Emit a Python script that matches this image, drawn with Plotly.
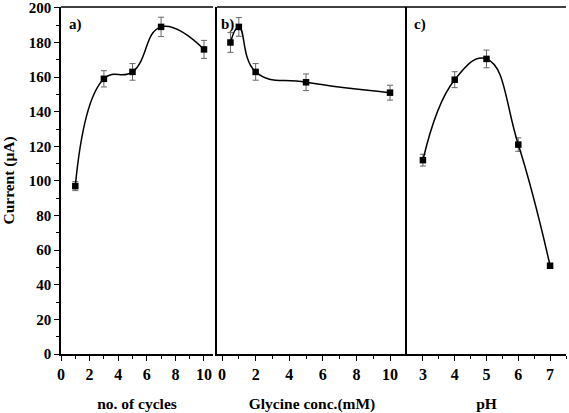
import plotly.graph_objects as go

# Panel a: number of cycles
cycles = [1, 3, 5, 7, 10]
cur_a = [97, 159, 163, 189, 176]
err_a = [2.6, 4.7, 4.8, 5.6, 5.2]

# Panel b: glycine concentration (mM)
gly = [0.5, 1, 2, 5, 10]
cur_b = [180, 189, 163, 157, 151]
err_b = [5.7, 5.4, 4.8, 4.8, 4.3]

# Panel c: pH
ph = [3, 4, 5, 6, 7]
cur_c = [112, 158.5, 170.5, 121, 51]
err_c = [3.4, 4.6, 5.1, 3.9, 1.0]

FONT = "'Liberation Serif', 'Times New Roman', 'DejaVu Serif', serif"
W, H = 569, 413
L, R, T, B = 61, 3, 7, 59
PW = W - L - R

def px(v):
    return (v - L) / PW

fig = go.Figure()

def add_panel(x, y, e, xa, ya):
    fig.add_trace(go.Scatter(
        x=x, y=y, xaxis=xa, yaxis=ya, mode="lines+markers",
        line=dict(color="black", width=1.5, shape="spline", smoothing=1.3),
        marker=dict(symbol="square", size=6.5, color="black"),
        error_y=dict(type="data", array=e, visible=True, color="#666666",
                     thickness=1, width=3),
        showlegend=False, hoverinfo="skip"))

add_panel(cycles, cur_a, err_a, "x", "y")
add_panel(gly, cur_b, err_b, "x2", "y2")
add_panel(ph, cur_c, err_c, "x3", "y3")

xtickfont = dict(family=FONT, size=16, color="black")
ytickfont = dict(family=FONT, size=15, color="black")
titlefont = dict(family=FONT, size=15.5, color="black")

common_x = dict(showgrid=False, zeroline=False, showline=True, linecolor="black",
                linewidth=1.5, ticks="outside", ticklen=5,
                tickwidth=1.3, tickcolor="black", tickfont=xtickfont,
                title_font=titlefont, title_standoff=16, automargin=False)
common_y = dict(showgrid=False, zeroline=False, showline=True, linecolor="black",
                linewidth=1.5, range=[0, 200.5], automargin=False)

dom_a = [0, px(213)]
dom_b = [px(217), px(407)]
dom_c = [px(407), 1]

fig.update_layout(
    width=W, height=H,
    margin=dict(l=L, r=R, t=T, b=B),
    paper_bgcolor="white", plot_bgcolor="white",
    font=dict(family=FONT, color="black"),
    xaxis=dict(common_x, domain=dom_a, anchor="y", range=[0, 10.63],
               tickvals=[0, 2, 4, 6, 8, 10],
               minor=dict(tickvals=[1, 3, 5, 7, 9], ticks="outside", ticklen=3,
                          tickcolor="black"),
               title_text="<b>no. of cycles</b>"),
    yaxis=dict(common_y, domain=[0, 1], anchor="x", ticks="outside", ticklen=5,
               tickwidth=1.3, tickcolor="black",
               tickvals=list(range(0, 201, 20)),
               ticktext=[f"<b>{v}</b>" for v in range(0, 201, 20)],
               minor=dict(tickvals=list(range(10, 200, 20)), ticks="outside",
                          ticklen=3, tickcolor="black"),
               tickfont=ytickfont,
               title_text="<b>Current (μA)</b>", title_font=titlefont,
               title_standoff=12),
    xaxis2=dict(common_x, domain=dom_b, anchor="y2", range=[-0.3, 11.01],
                tickvals=[0, 2, 4, 6, 8, 10],
                minor=dict(tickvals=[1, 3, 5, 7, 9], ticks="outside", ticklen=3,
                           tickcolor="black"),
                title_text="<b>Glycine conc.(mM)</b>"),
    yaxis2=dict(common_y, domain=[0, 1], anchor="x2", showticklabels=False,
                ticks=""),
    xaxis3=dict(common_x, domain=dom_c, anchor="y3", range=[2.5, 7.5],
                tickvals=[3, 4, 5, 6, 7],
                minor=dict(tickvals=[3.5, 4.5, 5.5, 6.5, 7.5], ticks="outside",
                           ticklen=3, tickcolor="black"),
                title_text="<b>pH</b>"),
    yaxis3=dict(common_y, domain=[0, 1], anchor="x3", showticklabels=False,
                ticks=""),
    yaxis4=dict(overlaying="y", side="right", anchor="x", range=[0, 200.5],
                showgrid=False, zeroline=False, showline=True, linecolor="black",
                linewidth=1.5, ticks="inside", ticklen=4, tickcolor="black",
                tickvals=[40, 80, 120, 160], showticklabels=False, automargin=False),
    yaxis5=dict(overlaying="y3", side="right", anchor="x3", range=[0, 200.5],
                showgrid=False, zeroline=False, showline=True, linecolor="#999999",
                linewidth=1.5, ticks="inside", ticklen=4, tickcolor="#555555",
                tickvals=[40, 80, 120, 160], showticklabels=False, automargin=False),
)

for ax in ["xaxis", "xaxis2", "xaxis3"]:
    tv = fig.layout[ax].tickvals
    fig.layout[ax].ticktext = [f"<b>{v:g}</b>" for v in tv]

# top frame lines of each panel
for xr in ["x domain", "x2 domain", "x3 domain"]:
    fig.add_shape(type="line", xref=xr, yref="paper", x0=0, x1=1, y0=1, y1=1,
                  line=dict(color="black", width=1.5))

panel_labels = [("a)", "x domain", "y domain", 0.04), ("b)", "x2 domain", "y2 domain", 0.01),
                ("c)", "x3 domain", "y3 domain", 0.03)]
for txt, xr, yr, xo in panel_labels:
    fig.add_annotation(text=f"<b>{txt}</b>", xref=xr, yref=yr, x=xo, y=0.98,
                       xanchor="left", yanchor="top", showarrow=False,
                       font=dict(family=FONT, size=15, color="black"))

fig.write_html("out.html", config={"displayModeBar": False},
               post_script="document.body.style.margin='0';")
